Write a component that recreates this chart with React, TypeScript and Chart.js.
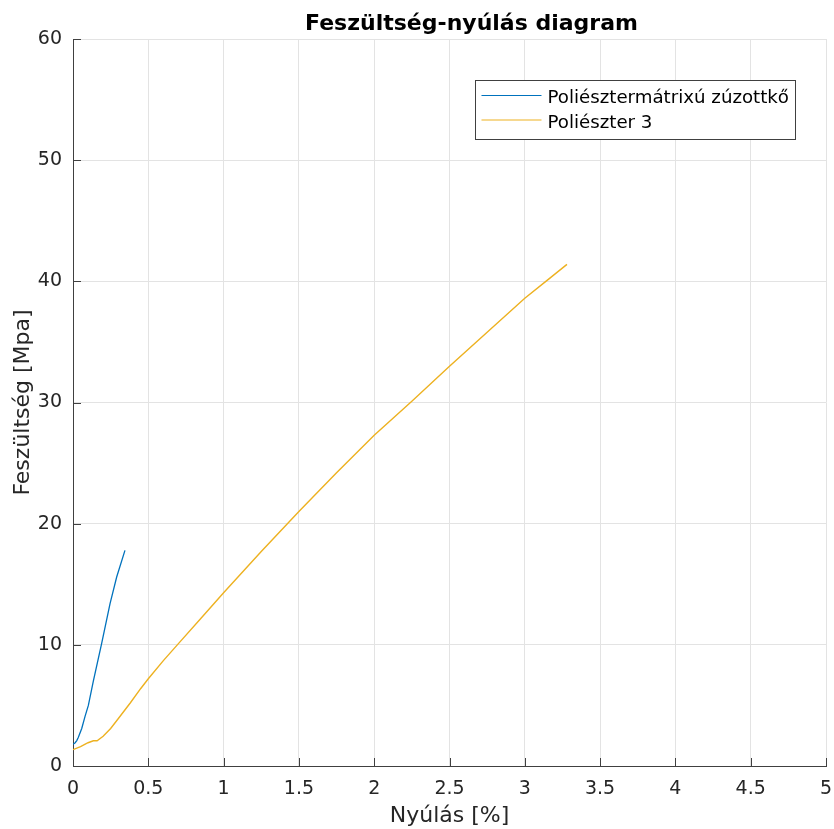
import React, { useEffect, useRef } from "react";
import { Chart, registerables } from "chart.js";

Chart.register(...registerables);

const TITLE = "Feszültség-nyúlás diagram";
const X_TITLE = "Nyúlás [%]";
const Y_TITLE = "Feszültség [Mpa]";

const SERIES1_LABEL = "Poliésztermátrixú zúzottkő";
const SERIES1_X = [0, 0.013, 0.025, 0.035, 0.058, 0.08, 0.102, 0.135, 0.19, 0.246, 0.29, 0.345];
const SERIES1_Y = [1.8, 1.9, 2.1, 2.35, 3.1, 4.1, 5.0, 7.0, 10.1, 13.4, 15.6, 17.8];

const SERIES2_LABEL = "Poliészter 3";
const SERIES2_X = [0, 0.05, 0.1, 0.135, 0.16, 0.2, 0.25, 0.3, 0.38, 0.45, 0.5, 0.6, 0.7, 0.85, 1.0, 1.25, 1.5, 1.75, 2.0, 2.25, 2.5, 2.75, 3.0, 3.15, 3.28];
const SERIES2_Y = [1.35, 1.6, 1.92, 2.08, 2.08, 2.45, 3.1, 3.9, 5.2, 6.4, 7.2, 8.7, 10.1, 12.2, 14.3, 17.7, 21.0, 24.2, 27.3, 30.1, 33.0, 35.8, 38.6, 40.1, 41.4];

const X_MIN = 0, X_MAX = 5, X_STEP = 0.5;
const Y_MIN = 0, Y_MAX = 60, Y_STEP = 10;

const FONT = "'DejaVu Sans', sans-serif";
const AXIS_COLOR = "#404040";
const TEXT_COLOR = "#262626";

const toPoints = (xs: number[], ys: number[]) => xs.map((x, i) => ({ x, y: ys[i] }));
const fmt = (v: any) => String(Math.round(Number(v) * 100) / 100);

const titlePlugin = {
  id: "matlabTitle",
  afterDraw(chart: any) {
    const { ctx, chartArea } = chart;
    ctx.save();
    ctx.font = `bold 22px ${FONT}`;
    ctx.fillStyle = "#000000";
    ctx.textAlign = "center";
    ctx.textBaseline = "alphabetic";
    ctx.fillText(TITLE, (chartArea.left + chartArea.right) / 2 + 22, chartArea.top - 9);
    ctx.restore();
  },
};

const inwardTicksPlugin = {
  id: "inwardTicks",
  afterDraw(chart: any) {
    const { ctx, chartArea, scales } = chart;
    const len = 8;
    ctx.save();
    ctx.strokeStyle = AXIS_COLOR;
    ctx.lineWidth = 1;
    ctx.beginPath();
    scales.x.ticks.forEach((t: any) => {
      const px = Math.round(scales.x.getPixelForValue(t.value)) + 0.5;
      ctx.moveTo(px, chartArea.bottom);
      ctx.lineTo(px, chartArea.bottom - len);
    });
    scales.y.ticks.forEach((t: any) => {
      const py = Math.round(scales.y.getPixelForValue(t.value)) + 0.5;
      ctx.moveTo(chartArea.left, py);
      ctx.lineTo(chartArea.left + len, py);
    });
    ctx.stroke();
    ctx.restore();
  },
};

const insideLegendPlugin = {
  id: "insideLegend",
  afterDraw(chart: any) {
    const { ctx, chartArea } = chart;
    const ds = chart.data.datasets;
    ctx.save();
    ctx.font = `18.2px ${FONT}`;
    const textW = Math.max(...ds.map((d: any) => ctx.measureText(d.label).width));
    const padL = 6, lineLen = 60, gap = 6, padR = 6;
    const w = padL + lineLen + gap + textW + padR;
    const h = 59;
    const right = chartArea.right - 31;
    const top = chartArea.top + 41;
    const left = right - w;
    ctx.fillStyle = "#ffffff";
    ctx.fillRect(left, top, w, h);
    ctx.strokeStyle = AXIS_COLOR;
    ctx.lineWidth = 1;
    ctx.strokeRect(Math.round(left) + 0.5, Math.round(top) + 0.5, Math.round(w), h);
    ds.forEach((d: any, i: number) => {
      const ly = top + 15.5 + i * 24.5;
      ctx.strokeStyle = d.borderColor;
      ctx.lineWidth = 1;
      ctx.beginPath();
      ctx.moveTo(left + padL, ly);
      ctx.lineTo(left + padL + lineLen, ly);
      ctx.stroke();
      ctx.fillStyle = "#000000";
      ctx.textAlign = "left";
      ctx.textBaseline = "alphabetic";
      ctx.fillText(d.label, left + padL + lineLen + gap, top + 22.5 + i * 25.2);
    });
    ctx.restore();
  },
};

export default function App() {
  const canvasRef = useRef<HTMLCanvasElement | null>(null);

  useEffect(() => {
    if (!canvasRef.current) return;
    const chart = new Chart(canvasRef.current, {
      type: "line",
      data: {
        datasets: [
          {
            label: SERIES1_LABEL,
            data: toPoints(SERIES1_X, SERIES1_Y),
            borderColor: "#0072BD",
            backgroundColor: "#0072BD",
            borderWidth: 1.3,
            pointRadius: 0,
            tension: 0,
            fill: false,
          },
          {
            label: SERIES2_LABEL,
            data: toPoints(SERIES2_X, SERIES2_Y),
            borderColor: "#EDB120",
            backgroundColor: "#EDB120",
            borderWidth: 1.4,
            pointRadius: 0,
            tension: 0,
            fill: false,
          },
        ],
      },
      options: {
        animation: false,
        responsive: false,
        devicePixelRatio: 1,
        layout: { padding: { top: 39, right: 8, left: 0, bottom: 0 } },
        plugins: {
          legend: { display: false },
          title: { display: false },
          tooltip: { enabled: false },
        },
        scales: {
          x: {
            type: "linear",
            position: "bottom",
            min: X_MIN,
            max: X_MAX,
            ticks: {
              stepSize: X_STEP,
              color: TEXT_COLOR,
              font: { family: FONT, size: 19 },
              padding: 12,
              maxRotation: 0,
              autoSkip: false,
              callback: (v: any) => fmt(v),
            },
            grid: { color: "#e3e3e3", drawTicks: false, lineWidth: 1 },
            border: { display: true, color: AXIS_COLOR, width: 1 },
            title: {
              display: true,
              text: X_TITLE,
              color: TEXT_COLOR,
              font: { family: FONT, size: 22 },
              padding: { top: 0, bottom: 0 },
            },
            afterFit: (scale: any) => {
              scale.height = 63;
              scale.paddingLeft = 0;
              scale.paddingRight = 0;
            },
          },
          y: {
            type: "linear",
            position: "left",
            min: Y_MIN,
            max: Y_MAX,
            ticks: {
              stepSize: Y_STEP,
              color: TEXT_COLOR,
              font: { family: FONT, size: 19 },
              padding: 11,
              callback: (v: any) => fmt(v),
            },
            grid: { color: "#e3e3e3", drawTicks: false, lineWidth: 1 },
            border: { display: true, color: AXIS_COLOR, width: 1 },
            title: {
              display: true,
              text: Y_TITLE,
              color: TEXT_COLOR,
              font: { family: FONT, size: 22 },
              padding: { top: 10, bottom: 0 },
            },
            afterFit: (scale: any) => {
              scale.width = 73;
              scale.paddingTop = 0;
              scale.paddingBottom = 0;
            },
          },
        },
      },
      plugins: [titlePlugin, inwardTicksPlugin, insideLegendPlugin],
    });
    return () => chart.destroy();
  }, []);

  return (
    <div style={{ position: "absolute", left: 0, top: 0, width: 834, height: 829, background: "#ffffff" }}>
      <canvas ref={canvasRef} width={834} height={829} style={{ display: "block" }} />
    </div>
  );
}
